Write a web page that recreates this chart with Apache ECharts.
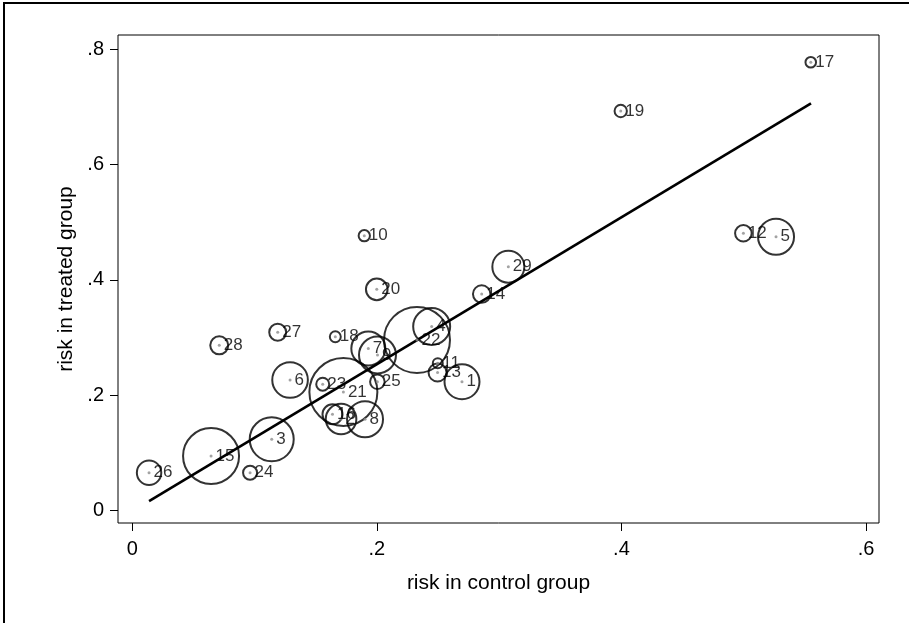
<!DOCTYPE html>
<html>
<head>
<meta charset="utf-8">
<title>risk in treated vs control group</title>
<script src="https://cdn.jsdelivr.net/npm/echarts@6/dist/echarts.min.js"></script>
<style>
  html, body { margin: 0; padding: 0; background: #fff; }
  #chart { width: 909px; height: 623px; }
</style>
</head>
<body>
<div id="chart"></div>
<script>
// study labels and risks
const studyIds = [1, 2, 3, 4, 5, 6, 7, 8, 9, 10, 11, 12, 13, 14, 15,
  16, 17, 18, 19, 20, 21, 22, 23, 24, 25, 26, 27, 28, 29];
const controlRisk = [0.2696, 0.1707, 0.1140, 0.2448, 0.5264, 0.1290, 0.1930, 0.1903, 0.2005, 0.1897,
  0.2498, 0.4997, 0.2496, 0.2857, 0.0644, 0.1637, 0.5548, 0.1660, 0.3994, 0.1999,
  0.1726, 0.2328, 0.1557, 0.0963, 0.2004, 0.0137, 0.1189, 0.0711, 0.3075];
const treatedRisk = [0.2235, 0.1589, 0.1237, 0.3192, 0.4748, 0.2265, 0.2811, 0.1584, 0.2698, 0.4765,
  0.2554, 0.4807, 0.2395, 0.3755, 0.0948, 0.1670, 0.7770, 0.3015, 0.6926, 0.3836,
  0.2057, 0.2958, 0.2192, 0.0658, 0.2235, 0.0658, 0.3091, 0.2866, 0.4228];
// relative study weight (marker area)
const studyWeight = [30.6, 23.4, 48.4, 34.2, 32.4, 31.7, 28.9, 32.4, 34.2, 3.2,
  2.5, 6.9, 8.1, 7.6, 78.4, 10.0, 2.8, 3.0, 3.8, 11.7,
  115.6, 108.9, 4.2, 4.9, 5.3, 14.9, 7.2, 8.1, 25.6];

// fitted line end points
const fitX = [0.0137, 0.5550];
const fitY = [0.0168, 0.7059];

const xTicks = [0, 0.2, 0.4, 0.6];
const yTicks = [0, 0.2, 0.4, 0.6, 0.8];

const stataNum = v => (v === 0 ? '0' : String(+v.toFixed(2)).replace(/^0\./, '.'));
const font = '"Liberation Sans", Arial, sans-serif';

const points = controlRisk.map((x, i) => [x, treatedRisk[i], studyWeight[i], studyIds[i]]);
const fitLine = fitX.map((x, i) => [x, fitY[i]]);

const chart = echarts.init(document.getElementById('chart'));

const option = {
  backgroundColor: '#fff',
  animation: false,
  textStyle: { fontFamily: font },
  graphic: [
    {
      type: 'rect',
      shape: { x: 4, y: 3, width: 1200, height: 1200 },
      style: { fill: 'none', stroke: '#000', lineWidth: 2 },
      silent: true
    }
  ],
  grid: {
    left: 118,
    right: 30,
    top: 35,
    bottom: 100,
    show: true,
    borderColor: '#000',
    borderWidth: 1,
    backgroundColor: '#fff'
  },
  xAxis: {
    type: 'value',
    min: -0.0117,
    max: 0.6106,
    name: 'risk in control group',
    nameLocation: 'middle',
    nameGap: 50,
    nameTextStyle: { fontSize: 21, color: '#000', fontFamily: font },
    axisLine: { show: false, onZero: false },
    splitLine: { show: false },
    axisTick: {
      show: true,
      inside: false,
      length: 8,
      customValues: xTicks,
      lineStyle: { color: '#000', width: 1 }
    },
    axisLabel: {
      customValues: xTicks,
      formatter: stataNum,
      fontSize: 20,
      color: '#000',
      margin: 16
    }
  },
  yAxis: {
    type: 'value',
    min: -0.0213,
    max: 0.8243,
    name: 'risk in treated group',
    nameLocation: 'middle',
    nameGap: 31,
    nameTextStyle: { fontSize: 21, color: '#000', fontFamily: font },
    axisLine: { show: false, onZero: false },
    splitLine: { show: false },
    axisTick: {
      show: true,
      inside: false,
      length: 8,
      customValues: yTicks,
      lineStyle: { color: '#000', width: 1 }
    },
    axisLabel: {
      customValues: yTicks,
      formatter: stataNum,
      fontSize: 20,
      color: '#000',
      margin: 14
    }
  },
  series: [
    {
      name: 'weights',
      type: 'scatter',
      data: points,
      symbol: 'circle',
      symbolSize: d => 2 * Math.sqrt(d[2] * 10),
      itemStyle: { color: 'rgba(0,0,0,0)', borderColor: '#000', borderWidth: 2 },
      silent: true,
      z: 2
    },
    {
      name: 'fit',
      type: 'line',
      data: fitLine,
      showSymbol: false,
      symbol: 'none',
      lineStyle: { color: '#000', width: 2.6 },
      silent: true,
      z: 3
    },
    {
      name: 'studies',
      type: 'scatter',
      data: points,
      symbol: 'circle',
      symbolSize: 3,
      itemStyle: { color: '#8c8c8c' },
      label: {
        show: true,
        position: 'right',
        distance: 3,
        formatter: p => String(p.data[3]),
        fontSize: 17,
        color: '#000',
        textBorderWidth: 0,
        fontFamily: font
      },
      labelLayout: { hideOverlap: false },
      silent: true,
      z: 4
    }
  ]
};

chart.setOption(option);
</script>
</body>
</html>
